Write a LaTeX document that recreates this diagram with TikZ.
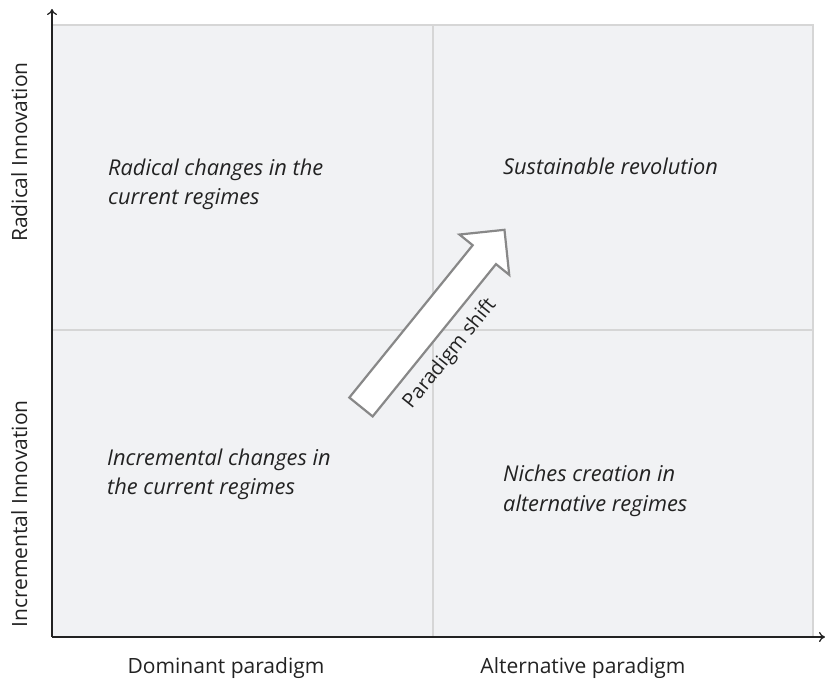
\documentclass[tikz,border=0pt]{standalone}
\usepackage{fontspec}
\setmainfont{Open Sans}
\usetikzlibrary{arrows.meta}
\definecolor{panel}{HTML}{F1F2F4}
\definecolor{divider}{HTML}{D6D6D6}
\definecolor{ink}{HTML}{222222}
\definecolor{arrowgray}{HTML}{888888}
\tikzset{
  quad/.style={anchor=base west, align=left, text=ink, inner sep=0pt,
    font=\fontsize{21.8}{29.5}\selectfont\itshape},
  xlab/.style={anchor=base, text=ink, inner sep=0pt, font=\fontsize{21}{24}\selectfont},
  ylab/.style={anchor=base, rotate=90, text=ink, inner sep=0pt, font=\fontsize{21}{24}\selectfont},
  axis/.style={draw=ink, line width=1.3pt, -{To[length=6pt,width=10pt]}},
}
\begin{document}
\begin{tikzpicture}[x=1pt,y=1pt]
\useasboundingbox (0,0) rectangle (825,681);
% panel
\fill[panel] (52,45) rectangle (813,656);
\draw[divider, line width=1.5pt] (52,656) -- (813,656) -- (813,45);
\draw[divider, line width=1.2pt] (433,45) -- (433,656);
\draw[divider, line width=1.2pt] (52,351) -- (813,351);
% axes
\coordinate (o) at (52,44);
\coordinate (ytip) at (52,672);
\coordinate (xtip) at (825,44);
\draw[axis] (o) -- (ytip);
\draw[axis] (o) -- (xtip);
% quadrant texts
\node[quad] (q2) at (108,476) {Radical changes in the\\current regimes};
\node[quad] (q1) at (503,506) {Sustainable revolution};
\node[quad] (q3) at (107,186) {Incremental changes in\\the current regimes};
\node[quad] (q4) at (503,170) {Niches creation in\\alternative regimes};
% axis labels
\node[xlab] (dom) at (226,8) {Dominant paradigm};
\node[xlab] (alt) at (583,8) {Alternative paradigm};
\node[ylab] (rad) at (27,529) {Radical Innovation};
\node[ylab] (inc) at (27,167) {Incremental Innovation};
% paradigm shift arrow
\begin{scope}[shift={(361,274)}, rotate=51]
\draw[arrowgray, fill=white, line width=2.2pt, line join=miter]
  (0,-15) -- (196,-15) -- (196,-32) -- (228,0) -- (196,32) -- (196,15) -- (0,15) -- cycle;
\node[anchor=center, rotate=51, text=ink, inner sep=0pt, font=\fontsize{20}{22}\selectfont] (ps) at (97,-36) {Paradigm shift};
\end{scope}
\end{tikzpicture}
\end{document}
